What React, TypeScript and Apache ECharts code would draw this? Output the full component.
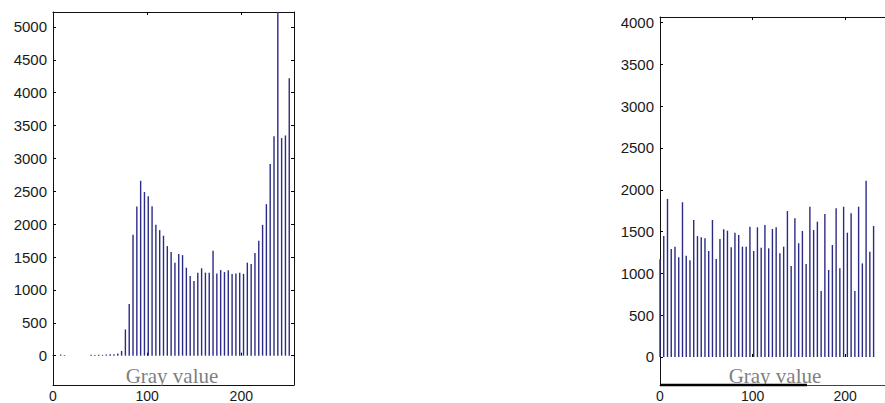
import { useEffect, useRef } from "react";
import * as echarts from "echarts";

// 64-bin gray-level histograms: original image (left) and equalized image (right)
const BIN_COUNT = 64;
const GRAY_MAX = 255;
const X_MAX = 256;

const originalCounts = [
  12, 0, 18, 10, 0, 0, 0, 0, 0, 0, 14, 10, 16, 12, 18, 22,
  20, 35, 72, 400, 785, 1840, 2270, 2660, 2490, 2425, 2275, 1990, 1910, 1825, 1667, 1578,
  1413, 1545, 1530, 1338, 1211, 1135, 1261, 1330, 1263, 1263, 1596, 1251, 1302, 1272, 1300, 1241,
  1251, 1262, 1245, 1415, 1395, 1563, 1748, 1990, 2305, 2915, 3339, 5600, 3310, 3350, 4220, 0,
];

const equalizedCounts = [
  1168, 1447, 1891, 1292, 1318, 1192, 1851, 1212, 1156, 1639, 1447, 1431, 1420, 1268, 1639, 1172,
  1411, 1527, 1511, 1312, 1487, 1459, 1320, 1320, 1559, 1268, 1551, 1308, 1579, 1300, 1531, 1551,
  1240, 1320, 1746, 1088, 1659, 1360, 1507, 1112, 1798, 1519, 1619, 789, 1710, 1041, 1340, 1778,
  1061, 1798, 1487, 1718, 789, 1798, 1120, 2109, 1260, 1567,
];

const leftYTicks = [0, 500, 1000, 1500, 2000, 2500, 3000, 3500, 4000, 4500, 5000];
const rightYTicks = [0, 500, 1000, 1500, 2000, 2500, 3000, 3500, 4000];
const xLabelTicks = [0, 100, 200];
const xMarkTicks = [100, 200];
const axisTitle = "Gray value";

const BAR_COLOR = "#2b2b85";
const LABEL_FONT = { fontFamily: "Liberation Sans, Arial, sans-serif", fontSize: 15, color: "#1a1a1a" };
const plain = (v: number) => String(v);

const toBins = (counts: number[]) =>
  counts.map((v, k) => [(k * GRAY_MAX) / (BIN_COUNT - 1), v]);

function xAxesFor(gridIndex: number, bottomLineColor: string) {
  return [
    {
      gridIndex,
      type: "value",
      min: 0,
      max: X_MAX,
      position: "bottom",
      axisLine: { show: true, onZero: false, lineStyle: { color: bottomLineColor, width: 1 } },
      axisTick: { show: false },
      axisLabel: {
        customValues: xLabelTicks,
        margin: 4,
        formatter: plain,
        ...LABEL_FONT,
        fontSize: 14,
        lineHeight: 14,
      },
      splitLine: { show: false },
    },
    {
      gridIndex,
      type: "value",
      min: 0,
      max: X_MAX,
      position: "bottom",
      axisLine: { show: false, onZero: true },
      axisTick: { show: true, inside: true, length: 3, customValues: xMarkTicks, lineStyle: { color: "#000" } },
      axisLabel: { show: false },
      splitLine: { show: false },
    },
    {
      gridIndex,
      type: "value",
      min: 0,
      max: X_MAX,
      position: "top",
      axisLine: { show: true, onZero: false, lineStyle: { color: "#111", width: 1 } },
      axisTick: { show: true, inside: true, length: 3, customValues: xMarkTicks, lineStyle: { color: "#000" } },
      axisLabel: { show: false },
      splitLine: { show: false },
    },
  ];
}

function yAxesFor(gridIndex: number, min: number, max: number, ticks: number[]) {
  return [
    {
      gridIndex,
      type: "value",
      min,
      max,
      position: "left",
      axisLine: { show: true, onZero: false, lineStyle: { color: "#111", width: 1 } },
      axisTick: { show: true, inside: true, length: 3, customValues: ticks, lineStyle: { color: "#000" } },
      axisLabel: { customValues: ticks, margin: 6, formatter: plain, ...LABEL_FONT },
      splitLine: { show: false },
    },
    {
      gridIndex,
      type: "value",
      min,
      max,
      position: "right",
      axisLine: { show: true, onZero: false, lineStyle: { color: "#111", width: 1 } },
      axisTick: { show: true, inside: true, length: 3, customValues: ticks, lineStyle: { color: "#000" } },
      axisLabel: { show: false },
      splitLine: { show: false },
    },
  ];
}

function titleText(cx: number) {
  return [
    {
      type: "text",
      z: 50,
      style: {
        x: cx,
        y: 375.5,
        text: axisTitle,
        align: "center",
        verticalAlign: "middle",
        lineHeight: 15,
        fontFamily: "Liberation Serif, Times New Roman, serif",
        fontSize: 21,
        fill: "#808080",
      },
    },
    {
      type: "rect",
      z: 60,
      shape: { x: cx - 55, y: 386, width: 110, height: 2 },
      style: { fill: "#fff" },
    },
  ];
}

export default function App() {
  const ref = useRef<HTMLDivElement>(null);

  useEffect(() => {
    document.body.style.margin = "0";
    if (!ref.current) return;
    const chart = echarts.init(ref.current, undefined, { renderer: "svg" });

    chart.setOption({
      animation: false,
      backgroundColor: "#fff",
      grid: [
        { left: 53, top: 12, width: 241, height: 373, outerBoundsMode: "none", containLabel: false },
        { left: 660, top: 17, width: 237, height: 368, outerBoundsMode: "none", containLabel: false },
      ],
      xAxis: [...xAxesFor(0, "#111"), ...xAxesFor(1, "#444")],
      yAxis: [...yAxesFor(0, -446, 5228, leftYTicks), ...yAxesFor(1, -335, 4067, rightYTicks)],
      series: [
        {
          type: "bar",
          xAxisIndex: 0,
          yAxisIndex: 0,
          data: toBins(originalCounts),
          barWidth: 1.4,
          clip: true,
          itemStyle: { color: BAR_COLOR },
        },
        {
          type: "bar",
          xAxisIndex: 3,
          yAxisIndex: 2,
          data: toBins(equalizedCounts),
          barWidth: 1.4,
          clip: true,
          itemStyle: { color: BAR_COLOR },
        },
      ],
      graphic: [
        ...titleText(172),
        ...titleText(775),
        {
          type: "line",
          z: 70,
          shape: { x1: 660, y1: 385, x2: 807, y2: 385 },
          style: { stroke: "#000", lineWidth: 2.5 },
        },
      ],
    });

    return () => chart.dispose();
  }, []);

  return <div ref={ref} style={{ width: 885, height: 403 }} />;
}
